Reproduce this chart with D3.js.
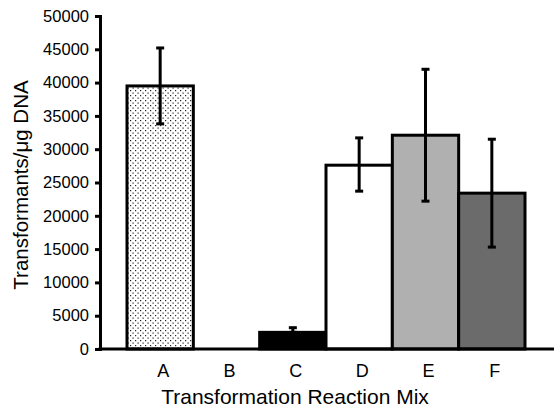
<!DOCTYPE html>
<html>
<head>
<meta charset="utf-8">
<script src="https://cdn.jsdelivr.net/npm/d3@7"></script>
<style>
  body { margin: 0; background: #fff; }
  svg { display: block; font-family: Arial, "Liberation Sans", sans-serif; }
</style>
</head>
<body>
<svg width="554" height="407"></svg>
<script>
var categories = ["A", "B", "C", "D", "E", "F"];
var means = [39500, 0, 2500, 27600, 32100, 23400];
var errLow = [33800, 0, 2500, 23700, 22200, 15300];
var errHigh = [45200, 0, 3200, 31700, 42000, 31500];
var fills = ["url(#dots)", "#fff", "#000", "#fff", "#b0b0b0", "#6b6b6b"];
var yTicks = [0, 5000, 10000, 15000, 20000, 25000, 30000, 35000, 40000, 45000, 50000];

var svg = d3.select("svg");

var defs = svg.append("defs");
var pat = defs.append("pattern")
    .attr("id", "dots")
    .attr("patternUnits", "userSpaceOnUse")
    .attr("width", 5)
    .attr("height", 5);
pat.append("rect").attr("width", 5).attr("height", 5).attr("fill", "#fff");
pat.append("rect").attr("x", 0).attr("y", 0).attr("width", 1.2).attr("height", 1.2).attr("fill", "#222");
pat.append("rect").attr("x", 2.5).attr("y", 2.5).attr("width", 1.2).attr("height", 1.2).attr("fill", "#222");

var x = d3.scaleBand()
    .domain(categories)
    .range([127, 525])
    .padding(0);

var y = d3.scaleLinear()
    .domain([0, 50000])
    .range([349, 16]);

// bars
svg.append("g")
    .selectAll("rect")
    .data(categories)
    .enter().append("rect")
        .attr("x", function(d) { return x(d); })
        .attr("y", function(d, i) { return y(means[i]); })
        .attr("width", x.bandwidth())
        .attr("height", function(d, i) { return y(0) - y(means[i]); })
        .attr("fill", function(d, i) { return fills[i]; })
        .attr("stroke", function(d, i) { return means[i] > 0 ? "#000" : "none"; })
        .attr("stroke-width", 3);

// error bars
var err = svg.append("g")
    .selectAll("g")
    .data(categories.filter(function(d, i) { return errHigh[i] > 0; }))
    .enter().append("g")
        .attr("stroke", "#000")
        .attr("stroke-width", 3);

err.append("line")
    .attr("x1", function(d) { return x(d) + x.bandwidth() / 2; })
    .attr("x2", function(d) { return x(d) + x.bandwidth() / 2; })
    .attr("y1", function(d) { return y(errLow[categories.indexOf(d)]); })
    .attr("y2", function(d) { return y(errHigh[categories.indexOf(d)]); });

[errLow, errHigh].forEach(function(arr) {
    err.append("line")
        .attr("x1", function(d) { return x(d) + x.bandwidth() / 2 - 4; })
        .attr("x2", function(d) { return x(d) + x.bandwidth() / 2 + 4; })
        .attr("y1", function(d) { return y(arr[categories.indexOf(d)]); })
        .attr("y2", function(d) { return y(arr[categories.indexOf(d)]); });
});

// y axis
var yAxis = svg.append("g")
    .attr("transform", "translate(100,0)")
    .call(d3.axisLeft(y).tickValues(yTicks).tickFormat(d3.format("d")).tickSizeOuter(0).tickSize(5).tickPadding(6));
yAxis.select(".domain").attr("stroke-width", 3);
yAxis.selectAll(".tick line").attr("stroke-width", 3);
yAxis.selectAll("text").attr("font-size", 16.5).attr("font-family", "Arial, 'Liberation Sans', sans-serif").attr("fill", "#000");

// x axis line
svg.append("line")
    .attr("x1", 98.5).attr("x2", 554)
    .attr("y1", y(0)).attr("y2", y(0))
    .attr("stroke", "#000")
    .attr("stroke-width", 3);

// category labels
svg.append("g")
    .selectAll("text")
    .data(categories)
    .enter().append("text")
        .attr("x", function(d) { return x(d) + x.bandwidth() / 2 + 3; })
        .attr("y", 377)
        .attr("text-anchor", "middle")
        .attr("font-size", 18)
        .text(function(d) { return d; });

svg.append("text")
    .attr("x", 295)
    .attr("y", 404)
    .attr("text-anchor", "middle")
    .attr("font-size", 21)
    .text("Transformation Reaction Mix");

svg.append("text")
    .attr("transform", "translate(28,185) rotate(-90)")
    .attr("text-anchor", "middle")
    .attr("font-size", 20.5)
    .text("Transformants/μg DNA");
</script>
</body>
</html>
